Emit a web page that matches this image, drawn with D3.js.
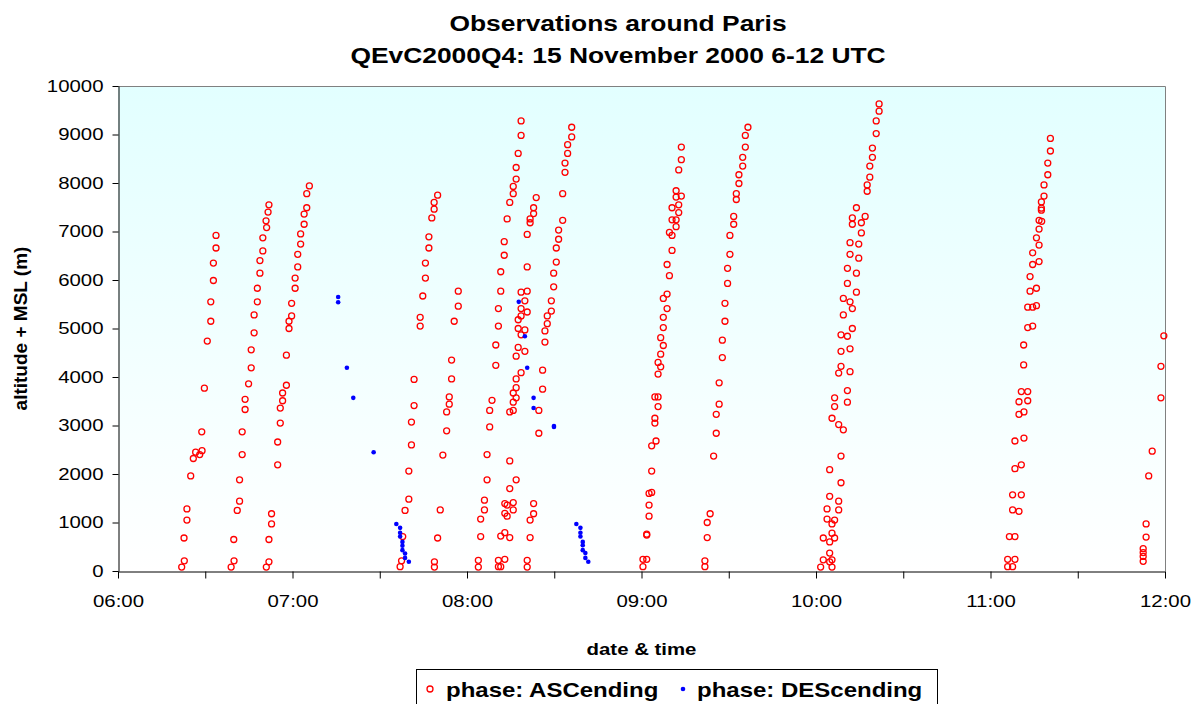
<!DOCTYPE html>
<html>
<head>
<meta charset="utf-8">
<script src="https://cdnjs.cloudflare.com/ajax/libs/d3/7.8.5/d3.min.js"></script>
<style>
body { margin: 0; background: #fff; }
text { font-family: "Liberation Sans", Arial, sans-serif; fill: #000; }
</style>
</head>
<body>
<div id="chart"></div>
<script>
var w = 1192;
var h = 704;
var sx = 1.2; // the original text is drawn a bit wide

// minutes after 06:00 UTC, altitude (m) -- ascending reports, one array per sounding
var ascA = [[33.7,6920],[33.7,6660],[32.8,6350],[32.8,5990],[31.9,5550],[31.9,5150],[30.7,4740],[29.7,3770],[28.8,2870],[26.7,2450],[28.1,2400],[28.9,2480],[25.9,2320],[25.0,1960],[23.7,1280],[23.7,1050],[22.7,680],[22.8,210],[21.9,80]];
var ascB = [[51.9,7550],[51.6,7400],[50.9,7220],[51.1,7080],[49.8,6870],[49.8,6600],[48.8,6400],[48.8,6140],[47.9,5830],[47.9,5550],[46.8,5280],[46.8,4910],[45.8,4560],[45.8,4190],[44.9,3860],[43.7,3540],[43.7,3330],[42.7,2870],[42.7,2400],[41.8,1880],[41.8,1440],[41.0,1250],[39.8,650],[39.9,210],[38.9,80]];
var ascC = [[65.8,7940],[64.9,7780],[64.9,7490],[64.0,7360],[64.0,7150],[62.8,6950],[62.8,6740],[61.8,6530],[61.8,6270],[60.9,6040],[60.9,5830],[59.7,5520],[59.7,5260],[58.8,5150],[58.8,5000],[57.9,4450],[57.9,3830],[56.6,3670],[56.6,3510],[55.8,3360],[55.8,3050],[54.9,2660],[54.9,2190],[52.8,1180],[52.8,970],[51.9,650],[51.9,190],[51.0,80]];
var ascD = [[109.9,7750],[108.7,7600],[108.7,7460],[107.9,7280],[106.9,6890],[106.9,6660],[105.7,6350],[105.7,6040],[104.8,5670],[103.9,5230],[103.9,5050],[101.8,3950],[101.8,3410],[100.9,3070],[100.9,2600],[100.0,2060],[100.0,1480],[98.7,1250],[97.9,710],[97.5,210],[97.0,90]];
var ascE = [[117.0,5770],[117.0,5460],[115.6,5150],[114.7,4350],[114.7,3960],[113.9,3590],[113.9,3440],[113.0,3280],[113.0,2890],[111.7,2390],[110.8,1260],[109.9,680],[108.8,190],[108.8,80]];
var ascF = [[138.6,9280],[138.6,8980],[137.6,8610],[136.9,8320],[136.9,8080],[135.9,7930],[135.9,7780],[134.7,7600],[133.8,7260],[132.8,6790],[132.8,6510],[131.6,6170],[131.6,5770],[130.8,5410],[130.8,5050],[129.9,4660],[129.9,4240],[128.6,3520],[127.8,3310],[127.8,2970],[126.9,2400],[126.9,1880],[126.0,1460],[126.0,1260],[124.7,1070],[124.7,710],[123.9,220],[123.9,80]];
var ascG = [[143.8,7700],[142.9,7490],[142.9,7370],[141.7,7260],[141.7,7180],[140.7,6940],[140.7,6270],[140.7,5770],[139.9,5570],[138.6,5750],[140.7,5340],[138.6,5410],[138.6,5260],[137.6,5180],[137.6,5000],[139.9,4970],[138.6,4870],[137.6,4610],[139.9,4530],[136.9,4430],[138.6,4090],[136.9,3960],[136.9,3780],[135.9,3670],[136.9,3570],[135.9,3480],[135.9,3310],[134.7,3280],[134.7,2270],[136.9,1880],[134.7,1700],[135.9,1410],[135.9,1260],[133.8,1360],[133.0,1390],[133.0,1190],[133.8,1130],[133.0,790],[131.6,720],[134.7,690],[130.8,220],[133.0,240],[130.8,90],[131.6,90],[140.7,220],[140.7,80],[142.9,1390],[142.9,1180],[141.7,1050],[141.7,690]];
var ascH = [[156.0,9150],[156.0,8950],[154.6,8790],[154.6,8610],[153.7,8410],[153.7,8220],[152.9,7780],[152.9,7230],[151.5,7030],[151.5,6840],[150.7,6660],[150.7,6370],[149.8,6140],[149.8,5860],[149.0,5570],[149.0,5360],[147.6,5260],[147.6,5100],[146.8,4950],[146.8,4720],[146.0,4140],[146.0,3750],[144.7,3310],[144.7,2840]];
var ascI = [[193.7,8740],[193.7,8480],[192.8,8270],[191.9,7840],[191.9,7710],[193.7,7730],[192.8,7550],[190.5,7490],[192.8,7390],[190.5,7240],[191.9,7240],[191.9,7100],[189.6,6980],[190.5,6920],[190.5,6610],[188.8,6320],[189.6,6090],[188.8,5710],[187.5,5620],[188.8,5410],[187.5,5230],[187.5,5020],[186.6,4810],[187.5,4650],[186.6,4470],[185.7,4300],[186.6,4210],[185.7,4060],[184.6,3590],[185.7,3590],[185.7,3390],[184.6,3150],[184.6,3050],[185.0,2680],[183.5,2580],[183.5,2060],[183.5,1620],[182.6,1600],[182.6,1360],[182.6,1130],[181.8,760],[181.8,740],[180.5,240],[181.8,240],[180.5,90]];
var ascJ = [[216.6,9150],[215.7,8980],[215.7,8740],[214.8,8530],[214.8,8350],[213.5,8170],[213.5,7990],[212.6,7780],[212.6,7660],[211.7,7310],[211.7,7150],[210.4,6920],[210.4,6530],[209.6,6240],[209.6,5930],[208.7,5520],[208.7,5150],[207.8,4760],[207.8,4400],[206.7,3880],[206.7,3440],[205.7,3230],[205.7,2840],[204.8,2370],[203.6,1180],[202.6,1000],[202.6,690],[201.8,210],[201.8,90]];
var ascK = [[261.7,9630],[261.7,9480],[260.7,9280],[260.7,9020],[259.4,8720],[259.4,8530],[258.5,8350],[258.5,8120],[257.6,7960],[257.6,7830],[253.9,7490],[256.9,7310],[252.5,7280],[252.5,7150],[255.6,7180],[255.6,6970],[251.7,6770],[254.7,6740],[251.7,6530],[254.7,6450],[250.8,6240],[253.9,6140],[250.8,5930],[253.9,5750],[249.4,5620],[251.7,5550],[252.5,5410],[249.4,5280],[252.5,5000],[248.6,4870],[250.8,4840],[248.6,4530],[251.7,4580],[248.6,4220],[247.8,4080],[251.7,4110],[250.8,3720],[246.4,3570],[250.8,3480],[246.4,3390],[245.5,3150],[247.8,3020],[249.4,2910],[248.6,2370],[244.7,2090],[248.6,1820],[244.7,1540],[247.8,1440],[243.8,1280],[247.8,1260],[243.8,1070],[246.4,1050],[245.5,970],[245.5,780],[242.5,680],[246.4,680],[244.7,600],[244.7,370],[242.5,230],[245.5,230],[244.7,190],[241.6,80],[245.5,80]];
var ascL = [[320.6,8920],[320.6,8660],[319.7,8410],[319.7,8170],[318.4,7960],[318.4,7730],[317.5,7610],[317.5,7480],[317.5,7440],[316.7,7230],[317.6,7210],[316.7,7050],[315.8,6870],[316.7,6720],[314.5,6560],[316.7,6380],[314.5,6320],[313.6,6070],[315.8,5830],[313.6,5770],[315.8,5470],[312.8,5440],[314.5,5440],[312.8,5020],[314.5,5050],[311.4,4660],[311.4,4250],[310.6,3700],[312.8,3700],[309.8,3490],[312.8,3510],[309.8,3230],[311.5,3280],[308.4,2680],[311.5,2740],[308.4,2110],[310.6,2190],[307.6,1570],[310.6,1570],[307.6,1260],[309.8,1230],[306.5,710],[308.4,710],[305.9,240],[308.4,240],[305.9,90],[307.6,90]];
var ascM = [[359.6,4850],[358.6,4220],[358.6,3570],[355.6,2470],[354.4,1960],[353.5,970],[353.5,700],[352.5,460],[352.5,380],[352.5,300],[352.5,200]];

// descending reports
var descA = [[75.7,5650],[75.7,5540],[78.7,4190],[80.9,3570],[87.9,2450],[95.7,970],[97.0,890],[97.0,790],[97.0,710],[97.8,600],[97.8,520],[97.8,430],[98.7,360],[98.7,270],[100.0,190]];
var descB = [[137.8,5550],[139.9,4840],[140.7,4190],[142.9,3570],[142.9,3360],[149.9,2990],[149.9,2970]];
var descC = [[157.6,970],[159.0,890],[159.0,790],[159.0,710],[159.8,600],[159.8,530],[159.8,430],[160.7,370],[160.7,270],[161.7,190]];

var yTicks = [0,1000,2000,3000,4000,5000,6000,7000,8000,9000,10000];
var titleLines = ["Observations around Paris", "QEvC2000Q4: 15 November 2000 6-12 UTC"];
var seriesNames = ["phase: ASCending", "phase: DEScending"];

var ascending = [].concat(ascA, ascB, ascC, ascD, ascE, ascF, ascG, ascH, ascI, ascJ, ascK, ascL, ascM);
var descending = [].concat(descA, descB, descC);

var t0 = new Date(2000, 10, 15, 6, 0);
var t1 = new Date(2000, 10, 15, 12, 0);
function toDate(m) { return new Date(t0.getTime() + m * 60000); }

var plotL = 118, plotR = 1165, plotT = 86, plotB = 571;

var svg = d3.select("#chart").append("svg")
    .attr("width", w)
    .attr("height", h);

var x = d3.scaleTime().domain([t0, t1]).range([plotL, plotR]);
var y = d3.scaleLinear().domain([0, 10000]).range([plotB, plotT]);

// plot area background
var grad = svg.append("defs").append("linearGradient")
    .attr("id", "bg").attr("x1", 0).attr("y1", 0).attr("x2", 0).attr("y2", 1);
grad.append("stop").attr("offset", "0%").attr("stop-color", "#e2ffff");
grad.append("stop").attr("offset", "100%").attr("stop-color", "#ffffff");

svg.append("rect")
    .attr("x", plotL).attr("y", plotT)
    .attr("width", plotR - plotL).attr("height", plotB - plotT)
    .attr("fill", "url(#bg)");

svg.append("path")
    .attr("d", "M" + plotL + "," + (plotT + 0.5) + "H" + (plotR + 0.5) + "V" + plotB)
    .attr("fill", "none")
    .attr("stroke", "#808080");

// stretch a text horizontally around its anchor point
function stretch(sel) {
    sel.each(function() {
        var t = d3.select(this);
        var tx = +t.attr("x") || 0, ty = +t.attr("y") || 0;
        t.attr("x", null).attr("y", null)
         .attr("transform", "translate(" + tx + "," + ty + ") scale(" + sx + ",1)");
    });
}

// axes
var xAxis = d3.axisBottom(x)
    .tickValues(d3.timeMinute.every(30).range(t0, new Date(t1.getTime() + 1)))
    .tickFormat(function(d) { return d.getMinutes() === 0 ? d3.timeFormat("%H:%M")(d) : ""; })
    .tickSize(7)
    .tickSizeOuter(0)
    .tickPadding(16.5);

var gx = svg.append("g")
    .attr("transform", "translate(0," + (plotB + 0.5) + ")")
    .call(xAxis);

var yAxis = d3.axisLeft(y)
    .tickValues(yTicks)
    .tickFormat(d3.format("d"))
    .tickSize(6)
    .tickSizeOuter(0)
    .tickPadding(9);

var gy = svg.append("g")
    .attr("transform", "translate(" + (plotL + 0.5) + ",0)")
    .call(yAxis);

[gx, gy].forEach(function(g) {
    g.attr("font-family", null).attr("font-size", null);
    g.selectAll(".domain, .tick line").attr("stroke", "#000");
    g.selectAll("text").style("font-size", "17px").attr("fill", "#000");
    stretch(g.selectAll("text"));
});

// ascending: open red circles
svg.append("g").selectAll("circle")
    .data(ascending)
    .join("circle")
    .attr("cx", function(d) { return x(toDate(d[0])); })
    .attr("cy", function(d) { return y(d[1]); })
    .attr("r", 3)
    .attr("fill", "none")
    .attr("stroke", "#ff0000")
    .attr("stroke-width", 1.3);

// descending: small blue dots
svg.append("g").selectAll("circle")
    .data(descending)
    .join("circle")
    .attr("cx", function(d) { return x(toDate(d[0])); })
    .attr("cy", function(d) { return y(d[1]); })
    .attr("r", 2.3)
    .attr("fill", "#0000ff");

// titles
svg.selectAll("text.title")
    .data(titleLines)
    .join("text")
    .attr("class", "title")
    .attr("x", 618)
    .attr("y", function(d, i) { return 31 + i * 32; })
    .attr("text-anchor", "middle")
    .style("font-size", "22px")
    .style("font-weight", "bold")
    .text(function(d) { return d; })
    .call(stretch);

svg.append("text")
    .attr("x", (plotL + plotR) / 2)
    .attr("y", 655)
    .attr("text-anchor", "middle")
    .style("font-size", "17px")
    .style("font-weight", "bold")
    .text("date & time")
    .call(stretch);

svg.append("text")
    .attr("transform", "translate(27," + ((plotT + plotB) / 2) + ") rotate(-90)")
    .attr("text-anchor", "middle")
    .style("font-size", "19px")
    .style("font-weight", "bold")
    .text("altitude + MSL (m)");

// legend
var legend = svg.append("g");
legend.append("rect")
    .attr("x", 416.5).attr("y", 669.5)
    .attr("width", 521).attr("height", 50)
    .attr("fill", "#fff")
    .attr("stroke", "#000");

legend.append("circle")
    .attr("cx", 430).attr("cy", 689).attr("r", 3)
    .attr("fill", "none").attr("stroke", "#ff0000").attr("stroke-width", 1.3);
legend.append("circle")
    .attr("cx", 683).attr("cy", 689).attr("r", 2.3)
    .attr("fill", "#0000ff");

legend.selectAll("text")
    .data(seriesNames)
    .join("text")
    .attr("x", function(d, i) { return i === 0 ? 446 : 697; })
    .attr("y", 697)
    .style("font-size", "20px")
    .style("font-weight", "bold")
    .text(function(d) { return d; })
    .call(stretch);
</script>
</body>
</html>
